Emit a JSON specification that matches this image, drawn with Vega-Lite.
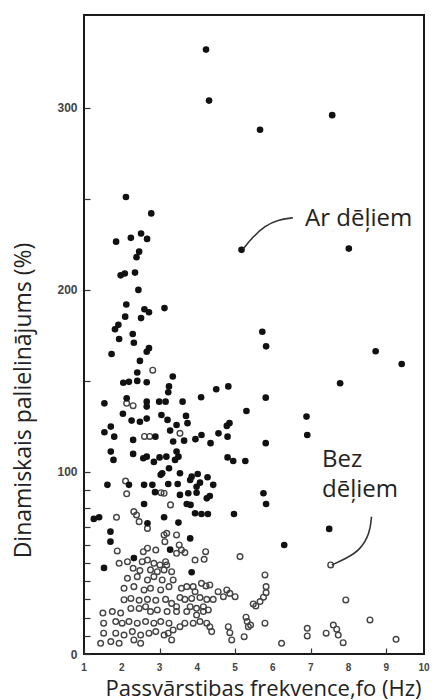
{
  "$schema": "https://vega.github.io/schema/vega-lite/v6.json",
  "autosize": {"type": "none"},
  "width": 340,
  "height": 639,
  "padding": {"left": 84, "top": 15, "right": 18, "bottom": 46},
  "background": "white",
  "config": {
    "view": {"stroke": "#1a1a1a", "strokeWidth": 2},
    "axis": {"grid": false, "domain": false, "labelFont": "Liberation Sans", "labelFontWeight": "bold", "labelColor": "#444", "tickColor": "#333", "tickWidth": 1.2, "titleFont": "Open Sans", "titleFontWeight": "normal", "titleColor": "#222"}
  },
  "datasets": {
    "xt": [{"v":1},{"v":2},{"v":3},{"v":4},{"v":5},{"v":6},{"v":7},{"v":8},{"v":9},{"v":10}],
    "ar": [
      {"x":4.23,"y":332},{"x":4.31,"y":304},{"x":5.66,"y":288},{"x":7.57,"y":296},{"x":2.11,"y":251},{"x":2.78,"y":242},{"x":1.85,"y":226.5},{"x":2.24,"y":228.6},{"x":2.51,"y":231},{"x":2.67,"y":228},{"x":2.46,"y":221},{"x":2.39,"y":218},{"x":1.97,"y":208},{"x":2.08,"y":209},{"x":2.35,"y":209.5},{"x":2.44,"y":200},{"x":2.12,"y":192},{"x":3.13,"y":190},{"x":2.60,"y":189.4},{"x":2.72,"y":187.7},{"x":2.09,"y":185.3},{"x":2.51,"y":184.5},{"x":1.91,"y":180.8},{"x":1.82,"y":178.4},{"x":5.17,"y":222},{"x":8.01,"y":222.7},{"x":2.29,"y":175.8},{"x":1.93,"y":173},{"x":2.32,"y":171},{"x":5.72,"y":177},{"x":5.82,"y":169},{"x":2.72,"y":168},{"x":2.66,"y":166},{"x":1.73,"y":164.8},{"x":2.48,"y":161},{"x":8.72,"y":166.3},{"x":9.41,"y":159.3},{"x":2.41,"y":154.6},{"x":3.35,"y":152.4},{"x":2.04,"y":149},{"x":2.19,"y":149.5},{"x":2.41,"y":150},{"x":2.66,"y":149.3},{"x":3.25,"y":147},{"x":3.23,"y":143.8},{"x":4.50,"y":145.4},{"x":4.82,"y":147},{"x":7.78,"y":148.7},{"x":1.54,"y":137.7},{"x":2.13,"y":140.5},{"x":2.66,"y":138.6},{"x":2.66,"y":135.9},{"x":2.99,"y":138.6},{"x":3.16,"y":138.6},{"x":3.61,"y":138.6},{"x":4.10,"y":141},{"x":5.81,"y":140.8},{"x":2.03,"y":132},{"x":5.30,"y":133.5},{"x":6.89,"y":130.4},{"x":2.26,"y":128.2},{"x":2.48,"y":127.6},{"x":2.66,"y":129.3},{"x":3.05,"y":131.3},{"x":3.21,"y":128.6},{"x":3.70,"y":130.8},{"x":3.74,"y":126.8},{"x":3.45,"y":125.8},{"x":4.85,"y":126.8},{"x":4.78,"y":125.3},{"x":1.54,"y":121.8},{"x":1.80,"y":119.4},{"x":1.71,"y":124.9},{"x":2.30,"y":117.6},{"x":2.89,"y":119.4},{"x":3.28,"y":122.7},{"x":3.36,"y":116.7},{"x":3.65,"y":117.2},{"x":3.95,"y":118},{"x":4.11,"y":120.3},{"x":4.35,"y":115.8},{"x":4.56,"y":121.2},{"x":4.80,"y":119.4},{"x":5.81,"y":115.8},{"x":6.91,"y":120.3},{"x":1.71,"y":111.2},{"x":1.78,"y":106.6},{"x":2.30,"y":109.9},{"x":2.57,"y":107.5},{"x":2.66,"y":108.4},{"x":2.85,"y":105.5},{"x":3.00,"y":108},{"x":3.18,"y":108.4},{"x":3.45,"y":111.2},{"x":3.50,"y":108.4},{"x":3.41,"y":106.6},{"x":3.25,"y":102},{"x":4.80,"y":108},{"x":4.95,"y":106},{"x":5.27,"y":106},{"x":3.07,"y":99.3},{"x":3.03,"y":98.4},{"x":3.54,"y":99.3},{"x":3.85,"y":97.4},{"x":4.01,"y":98.9},{"x":4.27,"y":97.1},{"x":3.81,"y":95.6},{"x":1.62,"y":92.9},{"x":2.19,"y":92.9},{"x":2.59,"y":92.9},{"x":2.81,"y":92.9},{"x":3.23,"y":93.4},{"x":3.48,"y":93.4},{"x":3.98,"y":91.9},{"x":4.07,"y":94.1},{"x":4.42,"y":92.9},{"x":2.88,"y":88.9},{"x":3.54,"y":87.4},{"x":3.76,"y":88.3},{"x":3.98,"y":88.6},{"x":4.25,"y":85.5},{"x":4.33,"y":86.8},{"x":3.72,"y":82.4},{"x":3.82,"y":81.9},{"x":2.59,"y":82.4},{"x":5.75,"y":88.3},{"x":5.82,"y":82.4},{"x":3.94,"y":77.3},{"x":4.11,"y":76.9},{"x":4.28,"y":76.9},{"x":4.97,"y":76.9},{"x":3.12,"y":75.1},{"x":1.26,"y":74.2},{"x":1.40,"y":75.1},{"x":2.68,"y":71.8},{"x":3.50,"y":72.2},{"x":1.70,"y":67.2},{"x":1.70,"y":61.7},{"x":3.81,"y":63.5},{"x":3.28,"y":57.3},{"x":6.30,"y":59.9},{"x":7.49,"y":68.7},{"x":2.32,"y":52.7},{"x":1.53,"y":47.3},{"x":3.85,"y":44.9}
    ],
    "bez": [
      {"x":5.79,"y":43.4},{"x":5.82,"y":37},{"x":5.82,"y":33.7},{"x":5.75,"y":31.2},{"x":5.66,"y":28.8},{"x":5.55,"y":26.4},{"x":5.48,"y":27.5},{"x":5.79,"y":16.9},{"x":5.41,"y":15.9},{"x":6.23,"y":5.9},{"x":6.91,"y":14.1},{"x":6.91,"y":9.9},{"x":7.41,"y":11.4},{"x":7.60,"y":15.9},{"x":7.69,"y":13.6},{"x":7.73,"y":10.4},{"x":7.86,"y":6.2},{"x":7.93,"y":29.7},{"x":8.57,"y":18.7},{"x":9.26,"y":8.1},{"x":7.53,"y":48.9},{"x":5.13,"y":53.5},{"x":5.29,"y":20.2},{"x":5.32,"y":17.8},{"x":5.35,"y":15},{"x":5.24,"y":9.5},{"x":4.82,"y":15},{"x":4.86,"y":11.7},{"x":4.91,"y":7.7},
      {"x":3.12,"y":88.3},{"x":3.29,"y":81.9},{"x":1.86,"y":75.1},{"x":2.32,"y":78.2},{"x":2.39,"y":76.4},{"x":2.46,"y":72.7},{"x":2.68,"y":69},{"x":3.12,"y":65.4},{"x":3.19,"y":66.3},{"x":3.14,"y":61.7},{"x":3.45,"y":65.4},{"x":1.88,"y":56.6},{"x":2.57,"y":56.2},{"x":2.68,"y":58.1},{"x":2.90,"y":57.1},{"x":3.52,"y":59.9},{"x":3.58,"y":57.1},{"x":3.67,"y":55.7},{"x":3.45,"y":55.3},{"x":4.22,"y":56.2},{"x":4.18,"y":52},{"x":3.94,"y":51.6},
      {"x":1.93,"y":49.8},{"x":2.15,"y":50.7},{"x":2.54,"y":50.7},{"x":2.68,"y":51.6},{"x":2.85,"y":49.8},{"x":3.01,"y":48.9},{"x":3.16,"y":50.7},{"x":3.19,"y":48.9},
      {"x":2.30,"y":47.1},{"x":2.48,"y":45.8},{"x":2.76,"y":46.2},{"x":2.94,"y":45.2},{"x":3.12,"y":46.2},{"x":3.32,"y":45.2},
      {"x":2.15,"y":41.6},{"x":2.41,"y":42.5},{"x":2.68,"y":40.7},{"x":2.85,"y":42.5},{"x":3.07,"y":40.7},{"x":3.36,"y":40.7},
      {"x":2.06,"y":36.1},{"x":2.32,"y":37},{"x":2.59,"y":35.2},{"x":2.76,"y":36.1},{"x":3.03,"y":35.2},{"x":3.25,"y":37},{"x":3.58,"y":36.1},{"x":3.72,"y":37},{"x":3.89,"y":37},{"x":3.94,"y":34.2},{"x":4.11,"y":38.8},{"x":4.23,"y":37.4},{"x":4.33,"y":37.9},{"x":4.55,"y":34.2},{"x":4.69,"y":31.5},{"x":4.86,"y":33.3},{"x":4.78,"y":35.2},{"x":5.0,"y":31.5},
      {"x":2.06,"y":29.8},{"x":2.24,"y":30.5},{"x":2.46,"y":29.5},{"x":2.68,"y":30},{"x":2.90,"y":29.5},{"x":3.16,"y":30},{"x":3.54,"y":31},{"x":3.67,"y":30},{"x":3.85,"y":30.5},{"x":4.07,"y":31},{"x":4.25,"y":30},{"x":4.42,"y":30},
      {"x":3.32,"y":27.8},{"x":3.45,"y":26},{"x":3.81,"y":26},{"x":3.98,"y":25.1},{"x":4.16,"y":26},
      {"x":1.50,"y":22.5},{"x":1.75,"y":23.3},{"x":1.97,"y":22.5},{"x":2.24,"y":25},{"x":2.46,"y":25},{"x":2.63,"y":26},{"x":2.76,"y":23.3},{"x":2.94,"y":24.2},{"x":3.20,"y":23.3},{"x":3.45,"y":23.3},{"x":3.72,"y":23.3},{"x":3.98,"y":21.4},{"x":4.16,"y":23.3},{"x":4.29,"y":24.2},
      {"x":1.52,"y":16.9},{"x":1.84,"y":17.8},{"x":2.01,"y":16.9},{"x":2.19,"y":17.8},{"x":2.41,"y":16.9},{"x":2.63,"y":17.8},{"x":2.85,"y":16.9},{"x":3.03,"y":17.8},{"x":3.25,"y":16.9},{"x":3.67,"y":16.9},{"x":3.89,"y":16.9},{"x":4.07,"y":17.8},{"x":4.25,"y":16.9},{"x":4.33,"y":15},{"x":4.38,"y":12.3},{"x":3.54,"y":15},{"x":3.36,"y":13.2},
      {"x":1.52,"y":11.4},{"x":1.84,"y":11.4},{"x":2.06,"y":10.4},{"x":2.28,"y":12.3},{"x":2.50,"y":10.4},{"x":2.72,"y":11.4},{"x":2.90,"y":12.3},{"x":3.12,"y":10.4},{"x":3.23,"y":11.4},{"x":3.32,"y":7.7},
      {"x":1.44,"y":5.9},{"x":1.71,"y":6.8},{"x":1.93,"y":5.9},{"x":2.32,"y":7.7},{"x":2.50,"y":5.9},
      {"x":2.82,"y":155.9},{"x":2.13,"y":137.7},{"x":2.30,"y":136.4},{"x":2.60,"y":119.5},{"x":2.74,"y":119.5},{"x":3.54,"y":121.2},{"x":2.10,"y":95},{"x":2.13,"y":88},{"x":3.04,"y":88.6}
    ],
    "lines": [
      {"k":"ar","o":1,"x":6.53,"y":239.6},{"k":"ar","o":2,"x":6.13,"y":238.5},{"k":"ar","o":3,"x":5.79,"y":235.2},{"k":"ar","o":4,"x":5.47,"y":229.1},{"k":"ar","o":5,"x":5.21,"y":222.5},
      {"k":"bez","o":1,"x":8.61,"y":75.4},{"k":"bez","o":2,"x":8.57,"y":66.3},{"k":"bez","o":3,"x":8.31,"y":57.1},{"k":"bez","o":4,"x":7.95,"y":52.6},{"k":"bez","o":5,"x":7.56,"y":48.9}
    ],
    "labels": [
      {"t":"Ar dēļiem","x":6.85,"y":239},
      {"t":"Bez","x":7.3,"y":106.6},
      {"t":"dēļiem","x":7.3,"y":90}
    ]
  },
  "layer": [
    {
      "data": {"name": "bez"},
      "mark": {"type": "point", "shape": "circle", "filled": false, "stroke": "#444", "strokeWidth": 1.4, "size": 32, "opacity": 1},
      "encoding": {
        "x": {"field": "x", "type": "quantitative", "scale": {"domain": [1, 10], "nice": false, "zero": false},
          "axis": {"values": [1,2,3,4,5,6,7,8,9,10], "labels": false, "tickSize": -6, "title": "Passvārstibas frekvence,fo (Hz)", "titleFontSize": 22, "titleX": 179, "titleY": 34, "titleBaseline": "middle", "titleAlign": "center"}},
        "y": {"field": "y", "type": "quantitative", "scale": {"domain": [0, 351], "nice": false, "zero": false},
          "axis": {"values": [0,10,20,30,40,50,60,70,80,90,100,150,200,250,300], "labelOverlap": false, "labelExpr": "datum.value % 100 === 0 ? datum.label : ''", "labelFontSize": 12, "tickSize": -6, "labelPadding": 13, "title": "Dinamiskais palielinājums (%)", "titleFontSize": 23, "titleX": -61, "titleY": 385, "titleBaseline": "middle", "titleAlign": "center", "titleAngle": 270}}
      }
    },
    {
      "data": {"name": "ar"},
      "mark": {"type": "circle", "color": "#111", "size": 44, "opacity": 1},
      "encoding": {
        "x": {"field": "x", "type": "quantitative"},
        "y": {"field": "y", "type": "quantitative"}
      }
    },
    {
      "data": {"name": "lines"},
      "mark": {"type": "line", "color": "#333", "strokeWidth": 1.6, "interpolate": "basis"},
      "encoding": {
        "x": {"field": "x", "type": "quantitative"},
        "y": {"field": "y", "type": "quantitative"},
        "detail": {"field": "k"},
        "order": {"field": "o"}
      }
    },
    {
      "data": {"name": "labels"},
      "mark": {"type": "text", "font": "Open Sans", "fontSize": 24, "color": "#222", "align": "left", "baseline": "middle"},
      "encoding": {
        "x": {"field": "x", "type": "quantitative"},
        "y": {"field": "y", "type": "quantitative"},
        "text": {"field": "t"}
      }
    },
    {
      "data": {"name": "xt"},
      "mark": {"type": "text", "font": "Liberation Sans", "fontWeight": "bold", "fontSize": 10, "color": "#444", "align": "center", "baseline": "middle"},
      "encoding": {
        "x": {"field": "v", "type": "quantitative"},
        "y": {"datum": -7.5},
        "text": {"field": "v", "type": "quantitative"}
      }
    }
  ]
}
